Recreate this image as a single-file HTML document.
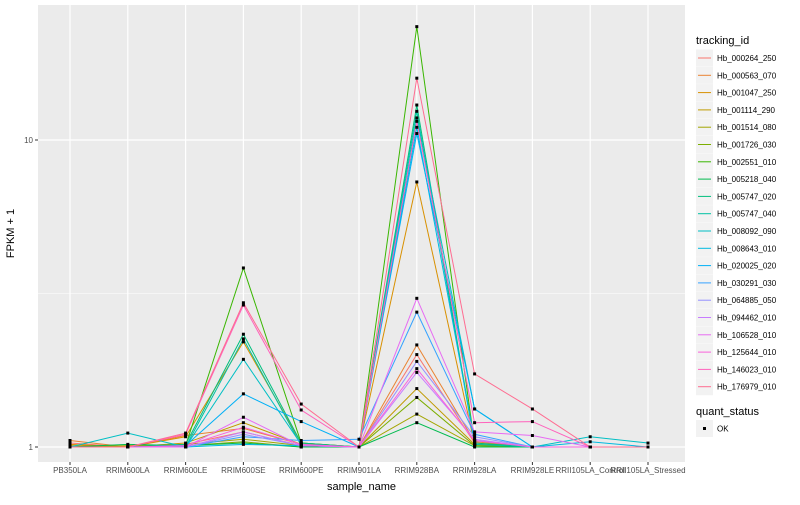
<!DOCTYPE html>
<html><head><meta charset="utf-8"><style>
body{margin:0;background:#fff;font-family:"Liberation Sans",sans-serif}
svg text{font-family:"Liberation Sans",sans-serif}
</style></head><body>
<svg id="c" width="800" height="500" xmlns="http://www.w3.org/2000/svg"></svg>
<script>
const categories=["PB350LA","RRIM600LA","RRIM600LE","RRIM600SE","RRIM600PE","RRIM901LA","RRIM928BA","RRIM928LA","RRIM928LE","RRII105LA_Control","RRII105LA_Stressed"];
const seriesNames=["Hb_000264_250","Hb_000563_070","Hb_001047_250","Hb_001114_290","Hb_001514_080","Hb_001726_030","Hb_002551_010","Hb_005218_040","Hb_005747_020","Hb_005747_040","Hb_008092_090","Hb_008643_010","Hb_020025_020","Hb_030291_030","Hb_064885_050","Hb_094462_010","Hb_106528_010","Hb_125644_010","Hb_146023_010","Hb_176979_010"];
const colors=["#F8766D","#EA8331","#D89000","#C09B00","#A3A500","#7CAE00","#39B600","#00BB4E","#00BF7D","#00C1A3","#00BFC4","#00BAE0","#00B0F6","#35A2FF","#9590FF","#C77CFF","#E76BF3","#FA62DB","#FF62BC","#FF6C91"];
const values=[
[1.03,1.0,1.02,1.12,1.01,1.0,2.0,1.03,1.0,1.0,1.0],
[1.05,1.0,1.09,1.15,1.02,1.0,2.15,1.04,1.0,1.0,1.0],
[1.02,1.0,1.08,2.2,1.03,1.0,7.3,1.02,1.0,1.0,1.0],
[1.01,1.0,1.03,1.2,1.02,1.0,1.55,1.02,1.0,1.0,1.0],
[1.0,1.01,1.02,1.06,1.01,1.0,1.28,1.01,1.0,1.0,1.0],
[1.0,1.0,1.01,1.04,1.0,1.0,1.45,1.01,1.0,1.0,1.0],
[1.0,1.0,1.01,3.83,1.03,1.0,23.4,1.02,1.0,1.0,1.0],
[1.0,1.02,1.01,1.03,1.0,1.0,1.2,1.0,1.0,1.0,1.0],
[1.0,1.0,1.02,2.33,1.03,1.0,13.0,1.03,1.0,1.0,1.0],
[1.0,1.0,1.0,2.25,1.01,1.0,12.4,1.02,1.0,1.0,1.0],
[1.0,1.11,1.0,1.93,1.02,1.0,11.8,1.33,1.0,1.08,1.03],
[1.0,1.0,1.0,1.02,1.01,1.0,11.0,1.05,1.0,1.04,1.0],
[1.0,1.0,1.01,1.49,1.21,1.0,10.5,1.33,1.0,1.0,1.0],
[1.0,1.0,1.0,1.08,1.05,1.06,2.75,1.1,1.0,1.0,1.0],
[1.0,1.0,1.0,1.1,1.01,1.0,1.9,1.08,1.0,1.0,1.0],
[1.0,1.0,1.0,1.12,1.01,1.0,1.75,1.06,1.0,1.0,1.0],
[1.0,1.0,1.0,1.25,1.01,1.0,3.05,1.12,1.09,1.0,1.0],
[1.0,1.0,1.01,1.16,1.02,1.0,1.8,1.05,1.0,1.0,1.0],
[1.0,1.0,1.1,2.9,1.32,1.0,11.5,1.2,1.21,1.0,1.0],
[1.0,1.0,1.11,2.95,1.38,1.0,15.9,1.73,1.33,1.0,1.0]];
const yTicks=[1,10];
const NS="http://www.w3.org/2000/svg";
const svg=document.getElementById('c');
const L=38,R=685,T=5,B=462;
const x=i=>70+i*57.8;
const y=v=>447-Math.log10(v)*307;
function mk(t,a,p){const e=document.createElementNS(NS,t);for(const k in a)e.setAttribute(k,a[k]);(p||svg).appendChild(e);return e;}
const panel=mk('rect',{x:L,y:T,width:R-L,height:B-T,fill:'#EBEBEB'});


[0.5].forEach(p=>{const g=mk('line',{x1:L,x2:R,y1:y(Math.pow(10,p)),y2:y(Math.pow(10,p)),stroke:'#fff','stroke-width':0.6});

});
yTicks.forEach(v=>{const g=mk('line',{x1:L,x2:R,y1:y(v),y2:y(v),stroke:'#fff','stroke-width':1.2});


const tk=mk('line',{x1:L-3,x2:L,y1:y(v),y2:y(v),stroke:'#333'});


const t=mk('text',{x:L-5,y:y(v)+3,'text-anchor':'end','font-size':8,fill:'#4d4d4d'});t.textContent=v;

});
categories.forEach((c,i)=>{const g=mk('line',{x1:x(i),x2:x(i),y1:T,y2:B,stroke:'#fff','stroke-width':1.2});


const tk=mk('line',{x1:x(i),x2:x(i),y1:B,y2:B+3,stroke:'#333'});


const t=mk('text',{x:x(i),y:B+11,'text-anchor':'middle','font-size':8,fill:'#4d4d4d'});t.textContent=c;

});
values.forEach((s,j)=>{const p=mk('polyline',{points:s.map((v,i)=>x(i)+','+y(v)).join(' '),fill:'none',stroke:colors[j],'stroke-width':1});

});
values.forEach((s,j)=>s.forEach((v,i)=>{const r=mk('rect',{x:x(i)-1.5,y:y(v)-1.5,width:3,height:3,fill:'#000'});

}));
let t=mk('text',{x:(L+R)/2,y:490,'text-anchor':'middle','font-size':11,fill:'#000'});t.textContent='sample_name';


t=mk('text',{x:14,y:(T+B)/2,'text-anchor':'middle','font-size':11,fill:'#000',transform:'rotate(-90 14 '+(T+B)/2+')'});t.textContent='FPKM + 1';


t=mk('text',{x:696,y:44,'font-size':11,fill:'#000'});t.textContent='tracking_id';


seriesNames.forEach((n,j)=>{const cy=58+j*17.3;
const b=mk('rect',{x:696,y:cy-8.5,width:17,height:17,fill:'#F2F2F2'});


const l=mk('line',{x1:698,x2:711,y1:cy,y2:cy,stroke:colors[j]});


const tx=mk('text',{x:717,y:cy+3,'font-size':8,fill:'#000'});tx.textContent=n;

});
t=mk('text',{x:696,y:415,'font-size':11,fill:'#000'});t.textContent='quant_status';


let b=mk('rect',{x:696,y:420,width:17,height:17,fill:'#F2F2F2'});


b=mk('rect',{x:703,y:427,width:3,height:3,fill:'#000'});


t=mk('text',{x:717,y:431.5,'font-size':8,fill:'#000'});t.textContent='OK';


</script>
</body></html>
